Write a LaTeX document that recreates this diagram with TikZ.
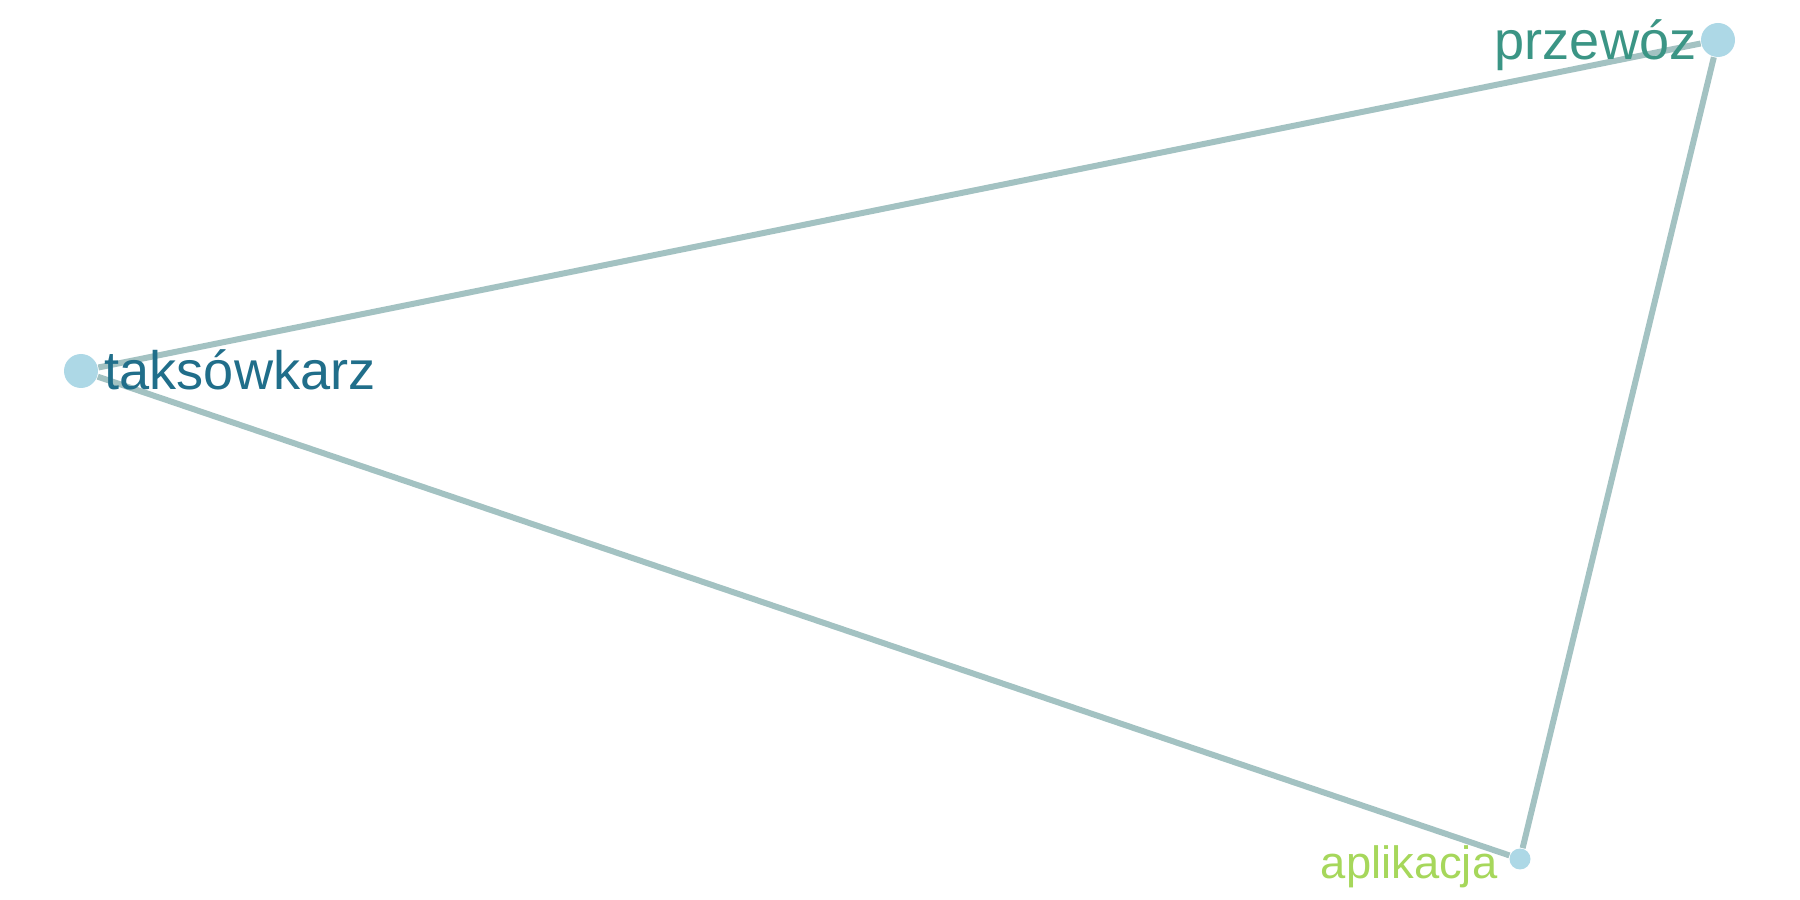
\documentclass[tikz,border=0pt]{standalone}
\usepackage{fontspec}
\setmainfont{Liberation Sans}
\usetikzlibrary{backgrounds}
\definecolor{dotblue}{HTML}{ADD8E6}
\definecolor{edgegray}{HTML}{A3C2C2}
\definecolor{taxiblue}{HTML}{206E8A}
\definecolor{przteal}{HTML}{3B9585}
\definecolor{applime}{HTML}{A6D75B}
\tikzset{
    dot/.style={circle, fill=dotblue, inner sep=0pt, minimum size=#1},
    link/.style={line width=0.6mm, edgegray},
    word/.style={inner sep=0pt, font=\fontsize{15.4}{18}\selectfont}
}
\begin{document}
\begin{tikzpicture}
            \useasboundingbox (0, 0) rectangle (18, 9);
            \node[dot=3.4mm] (taxi) at (0.81, 5.29) {};
            \node[dot=3.4mm] (przewoz) at (17.18, 8.60) {};
            \node[dot=2.1mm] (app) at (15.20, 0.41) {};
            \begin{scope}[on background layer]
                \draw[link] (taxi) -- (przewoz) -- (app) -- (taxi);
            \end{scope}
            \node[word, anchor=base west, taxiblue] (taxilabel) at (1.04, 5.10) {taksówkarz};
            \node[word, anchor=base east, przteal] (przewozlabel) at (16.97, 8.40) {przewóz};
            \node[word, anchor=base east, applime, font=\fontsize{12.9}{15}\selectfont] (applabel) at (14.98, 0.21) {aplikacja};
        \end{tikzpicture}
\end{document}
